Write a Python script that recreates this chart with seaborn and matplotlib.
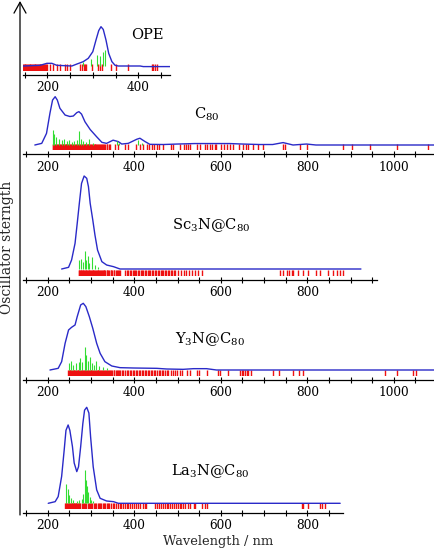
import matplotlib
matplotlib.use("Agg")
import matplotlib.pyplot as plt
import seaborn as sns

# ---------------- data ----------------
# OPE
ope_curve_nm = [147, 184, 199, 210, 221, 254, 265, 279, 290, 300, 307, 313, 318, 323, 329, 335, 342, 349, 356, 404, 411, 470]
ope_curve_f = [0, 0.017, 0.068, 0.068, 0.017, 0, 0.05, 0.11, 0.195, 0.364, 0.66, 0.90, 1.0, 0.93, 0.66, 0.32, 0.11, 0.017, 0, 0, -0.015, -0.015]
ope_stick_nm = [279, 295, 309, 316, 322, 327]
ope_stick_f = [0.11, 0.17, 0.28, 0.25, 0.36, 0.41]
ope_trans_nm = [147, 149, 151, 152, 154, 156, 158, 160, 161, 163, 165, 167, 169, 171, 172, 174, 176, 178, 180,
                182, 183, 185, 187, 189, 191, 193, 195, 197, 199, 206, 213, 221, 228, 239, 243, 250, 272, 276,
                281, 283, 285, 298, 312, 316, 320, 341, 352, 378, 430, 433, 437, 440]

# C80
c80_curve_nm = [170, 186, 197, 205, 211, 217, 222, 228, 240, 251, 259, 267, 272, 278, 286, 298, 313, 325, 336,
                351, 363, 371, 386, 406, 413, 425, 436, 467, 500, 540, 580, 620, 650, 690, 720, 744, 767, 798, 820, 1093]
c80_curve_f = [0, 0.034, 0.24, 0.66, 0.93, 1.0, 0.93, 0.76, 0.62, 0.59, 0.60, 0.67, 0.69, 0.64, 0.48, 0.32, 0.17,
               0.055, 0.034, 0.10, 0.07, 0.02, 0.034, 0.12, 0.14, 0.07, 0.014, 0.01, 0.02, 0.03, 0.03, 0.03, 0.02,
               0.01, 0.01, 0.05, 0.0, 0.02, 0.0, 0.0]
c80_stick_nm = [213, 215, 220, 227, 232, 238, 244, 250, 255, 261, 267, 272, 277, 282, 288, 296, 304, 359, 365, 409, 417]
c80_stick_f = [0.31, 0.22, 0.17, 0.12, 0.10, 0.12, 0.08, 0.10, 0.07, 0.09, 0.11, 0.28, 0.12, 0.08, 0.06, 0.12, 0.05,
               0.08, 0.04, 0.10, 0.05]
c80_trans_nm = [211, 213, 214, 216, 218, 220, 221, 223, 225, 227, 229, 230, 232, 234, 236, 238, 239, 241, 243, 245,
                247, 248, 250, 252, 254, 256, 257, 259, 261, 263, 265, 267, 268, 270, 272, 274, 276, 277, 279, 281,
                283, 285, 287, 289, 290, 292, 294, 296, 298, 300, 302, 304, 306, 308, 310, 312, 314, 317, 319, 321,
                323, 326, 328, 331, 333, 336, 338, 341, 344, 355, 363, 379, 386, 404, 413, 421, 429, 434, 440, 446,
                452, 457, 467, 486, 490, 506, 515, 520, 525, 529, 544, 552, 564, 567, 574, 579, 587, 590, 600, 607,
                614, 621, 629, 641, 652, 658, 664, 675, 687, 698, 743, 748, 783, 799, 883, 903, 945, 1007, 1080]

# Sc3N@C80
sc_curve_nm = [232, 248, 255, 263, 268, 273, 278, 284, 290, 294, 298, 304, 309, 315, 325, 336, 352, 367, 924]
sc_curve_f = [0, 0.018, 0.097, 0.276, 0.49, 0.71, 0.92, 1.0, 0.975, 0.885, 0.706, 0.527, 0.366, 0.204, 0.079,
              0.043, 0.025, 0, 0]
sc_stick_nm = [272, 276, 281, 286, 289, 292, 296, 303, 309, 317]
sc_stick_f = [0.10, 0.11, 0.07, 0.19, 0.10, 0.14, 0.06, 0.125, 0.04, 0.02]
sc_trans_nm = [271, 272, 274, 276, 277, 279, 281, 282, 284, 286, 288, 289, 291, 293, 295, 296, 298, 300, 302, 304,
               305, 307, 309, 311, 313, 315, 317, 319, 321, 323, 325, 327, 329, 331, 333, 336, 338, 340, 342, 345,
               347, 349, 352, 354, 357, 359, 362, 364, 367, 379, 383, 386, 389, 392, 396, 399, 402, 405, 409, 412,
               415, 418, 421, 425, 428, 431, 434, 437, 441, 444, 447, 451, 454, 457, 461, 464, 467, 471, 474, 477,
               481, 484, 488, 491, 494, 502, 508, 514, 520, 527, 533, 541, 548, 556, 737, 743, 752, 758, 764, 768,
               779, 791, 802, 820, 829, 849, 860, 868, 876, 883]

# Y3N@C80
y_curve_nm = [205, 224, 232, 240, 248, 255, 263, 268, 276, 282, 288, 296, 304, 313, 321, 332, 348, 367, 398, 452,
              475, 513, 537, 567, 590, 1093]
y_curve_f = [0, 0.025, 0.125, 0.40, 0.60, 0.64, 0.675, 0.80, 0.975, 1.0, 0.95, 0.80, 0.625, 0.40, 0.25, 0.125,
             0.06, 0.035, 0.03, 0.025, 0.015, 0.01, 0.02, 0.02, 0, 0]
y_stick_nm = [248, 253, 259, 265, 271, 274, 279, 285, 288, 293, 298, 302, 307, 311, 318, 328, 336]
y_stick_f = [0.10, 0.14, 0.08, 0.10, 0.12, 0.175, 0.12, 0.35, 0.225, 0.14, 0.20, 0.10, 0.08, 0.14, 0.06, 0.04, 0.025]
y_trans_nm = [247, 249, 251, 252, 254, 256, 258, 260, 261, 263, 265, 267, 269, 270, 272, 274, 276, 278, 279, 281,
              283, 285, 287, 288, 290, 292, 294, 296, 298, 299, 301, 303, 305, 307, 309, 311, 313, 315, 317, 319,
              321, 323, 325, 327, 330, 332, 334, 337, 339, 342, 344, 347, 349, 352, 354, 357, 359, 362, 365, 368,
              372, 375, 379, 382, 386, 389, 393, 396, 399, 403, 406, 410, 413, 417, 420, 424, 427, 431, 434, 438,
              441, 445, 449, 452, 456, 460, 463, 467, 471, 475, 479, 484, 489, 494, 499, 505, 510, 521, 529, 544,
              550, 567, 594, 598, 617, 644, 648, 652, 656, 660, 664, 670, 721, 735, 767, 780, 791, 980, 1008, 1044,
              1051]

# La3N@C80
la_curve_nm = [201, 217, 224, 232, 238, 242, 247, 251, 257, 261, 267, 271, 276, 281, 285, 290, 295, 299, 305, 313,
               321, 336, 352, 363, 876]
la_curve_f = [0, 0.017, 0.07, 0.28, 0.56, 0.76, 0.816, 0.76, 0.59, 0.42, 0.33, 0.38, 0.59, 0.83, 0.97, 1.0, 0.94,
              0.69, 0.38, 0.14, 0.052, 0.024, 0.017, 0, 0]
la_stick_nm = [242, 246, 250, 254, 259, 267, 273, 278, 282, 286, 288, 291, 294, 298, 301, 305]
la_stick_f = [0.20, 0.146, 0.087, 0.06, 0.035, 0.028, 0.035, 0.042, 0.10, 0.347, 0.24, 0.184, 0.12, 0.07, 0.035, 0.024]
la_trans_nm = [240, 241, 243, 245, 246, 248, 250, 251, 253, 255, 256, 258, 260, 261, 263, 265, 266, 268, 270, 271,
               273, 274, 278, 281, 284, 287, 289, 292, 295, 298, 300, 303, 306, 309, 312, 315, 318, 321, 324, 327,
               330, 333, 336, 339, 342, 346, 350, 354, 358, 362, 366, 370, 374, 378, 382, 386, 390, 395, 399, 404,
               409, 414, 419, 424, 428, 448, 452, 457, 461, 466, 470, 475, 479, 483, 487, 491, 496, 500, 505, 509,
               513, 517, 525, 529, 537, 540, 556, 564, 567, 787, 791, 802, 829, 833, 841]

labels = ["OPE", "C$_{80}$", "Sc$_3$N@C$_{80}$", "Y$_3$N@C$_{80}$", "La$_3$N@C$_{80}$"]
x_label = "Wavelength / nm"
y_label = "Oscillator sterngth"

# ---------------- style ----------------
sns.set_theme(style="white")
plt.rcParams["font.family"] = ["DejaVu Serif"]
plt.rcParams["mathtext.fontset"] = "dejavuserif"
plt.rcParams["mathtext.default"] = "regular"

BLUE = "#2a2ac8"
GREEN = "#33dd33"
RED = "#ee1111"

W, H = 434, 552
fig = plt.figure(figsize=(W / 100, H / 100), dpi=100)
fig.patch.set_facecolor("white")

# layout in pixels: left, right, axis line y, baseline y, peak y, px of 200 nm, px per nm, label pos
layout = [
    dict(L=23, R=170, A=75, B=66, P=26.7, ref=47.3, s=0.455, lab=(131, 39)),
    dict(L=23, R=434, A=154.3, B=145, P=96.7, ref=47.8, s=0.4325, lab=(194, 118.5)),
    dict(L=23, R=376.7, A=280, B=269, P=176, ref=47.8, s=0.4325, lab=(172, 229)),
    dict(L=23, R=434, A=380, B=370, P=303.3, ref=47.8, s=0.4325, lab=(175, 343.5)),
    dict(L=23, R=343.3, A=513, B=503.3, P=407.3, ref=47.8, s=0.4325, lab=(171, 475)),
]
series = [
    (ope_curve_nm, ope_curve_f, ope_stick_nm, ope_stick_f, ope_trans_nm),
    (c80_curve_nm, c80_curve_f, c80_stick_nm, c80_stick_f, c80_trans_nm),
    (sc_curve_nm, sc_curve_f, sc_stick_nm, sc_stick_f, sc_trans_nm),
    (y_curve_nm, y_curve_f, y_stick_nm, y_stick_f, y_trans_nm),
    (la_curve_nm, la_curve_f, la_stick_nm, la_stick_f, la_trans_nm),
]

for g, (cx, cy, sx, sy, tx), lab in zip(layout, series, labels):
    bottom = g["A"] - 4
    top = g["P"] - 6
    ax = fig.add_axes([g["L"] / W, 1 - bottom / H, (g["R"] - g["L"]) / W, (bottom - top) / H])
    ax.patch.set_alpha(0)
    x0 = 200 + (g["L"] - g["ref"]) / g["s"]
    x1 = 200 + (g["R"] - g["ref"]) / g["s"]
    span = g["B"] - g["P"]
    sns.rugplot(x=tx, ax=ax, height=6.5 / (bottom - top), color=RED, lw=0.8,
                expand_margins=False, alpha=1)
    sns.lineplot(x=cx, y=cy, ax=ax, color=BLUE, lw=1.0)
    ax.vlines(sx, 0, sy, color=GREEN, lw=0.8)
    ax.set_xlim(x0, x1)
    ax.set_ylim((g["B"] - bottom) / span, (g["B"] - top) / span)
    ticks = [t for t in range(150, 1200, 50) if x0 <= t <= x1]
    ax.set_xticks(ticks)
    ax.set_xticklabels([str(t) if t % 200 == 0 else "" for t in ticks])
    ax.set_yticks([])
    ax.set_xlabel("")
    ax.set_ylabel("")
    for sp in ("top", "left", "right"):
        ax.spines[sp].set_visible(False)
    ax.spines["bottom"].set_position(("outward", 4 * 72 / 100))
    ax.spines["bottom"].set_color("black")
    ax.spines["bottom"].set_linewidth(0.9)
    ax.tick_params(axis="x", direction="inout", length=4, width=0.8, pad=2.5,
                   labelsize=8.7, colors="black", bottom=True)
    fig.text(g["lab"][0] / W, 1 - g["lab"][1] / H, lab, ha="left", va="baseline",
             fontsize=10.5, color="black")

# overlay for the vertical arrow axis and axis titles
ov = fig.add_axes([0, 0, 1, 1], zorder=-1)
ov.set_xlim(0, W)
ov.set_ylim(H, 0)
ov.axis("off")
ov.annotate("", xy=(20, 1), xytext=(20, 515),
            arrowprops=dict(arrowstyle="->,head_length=0.65,head_width=0.36", color="black",
                            lw=0.9, shrinkA=0, shrinkB=0))
ov.text(7, 247, y_label, rotation=90, ha="center", va="center", fontsize=10)
ov.text(218, 541, x_label, ha="center", va="center", fontsize=9.4)

fig.savefig("out.png", dpi=100, facecolor="white")
